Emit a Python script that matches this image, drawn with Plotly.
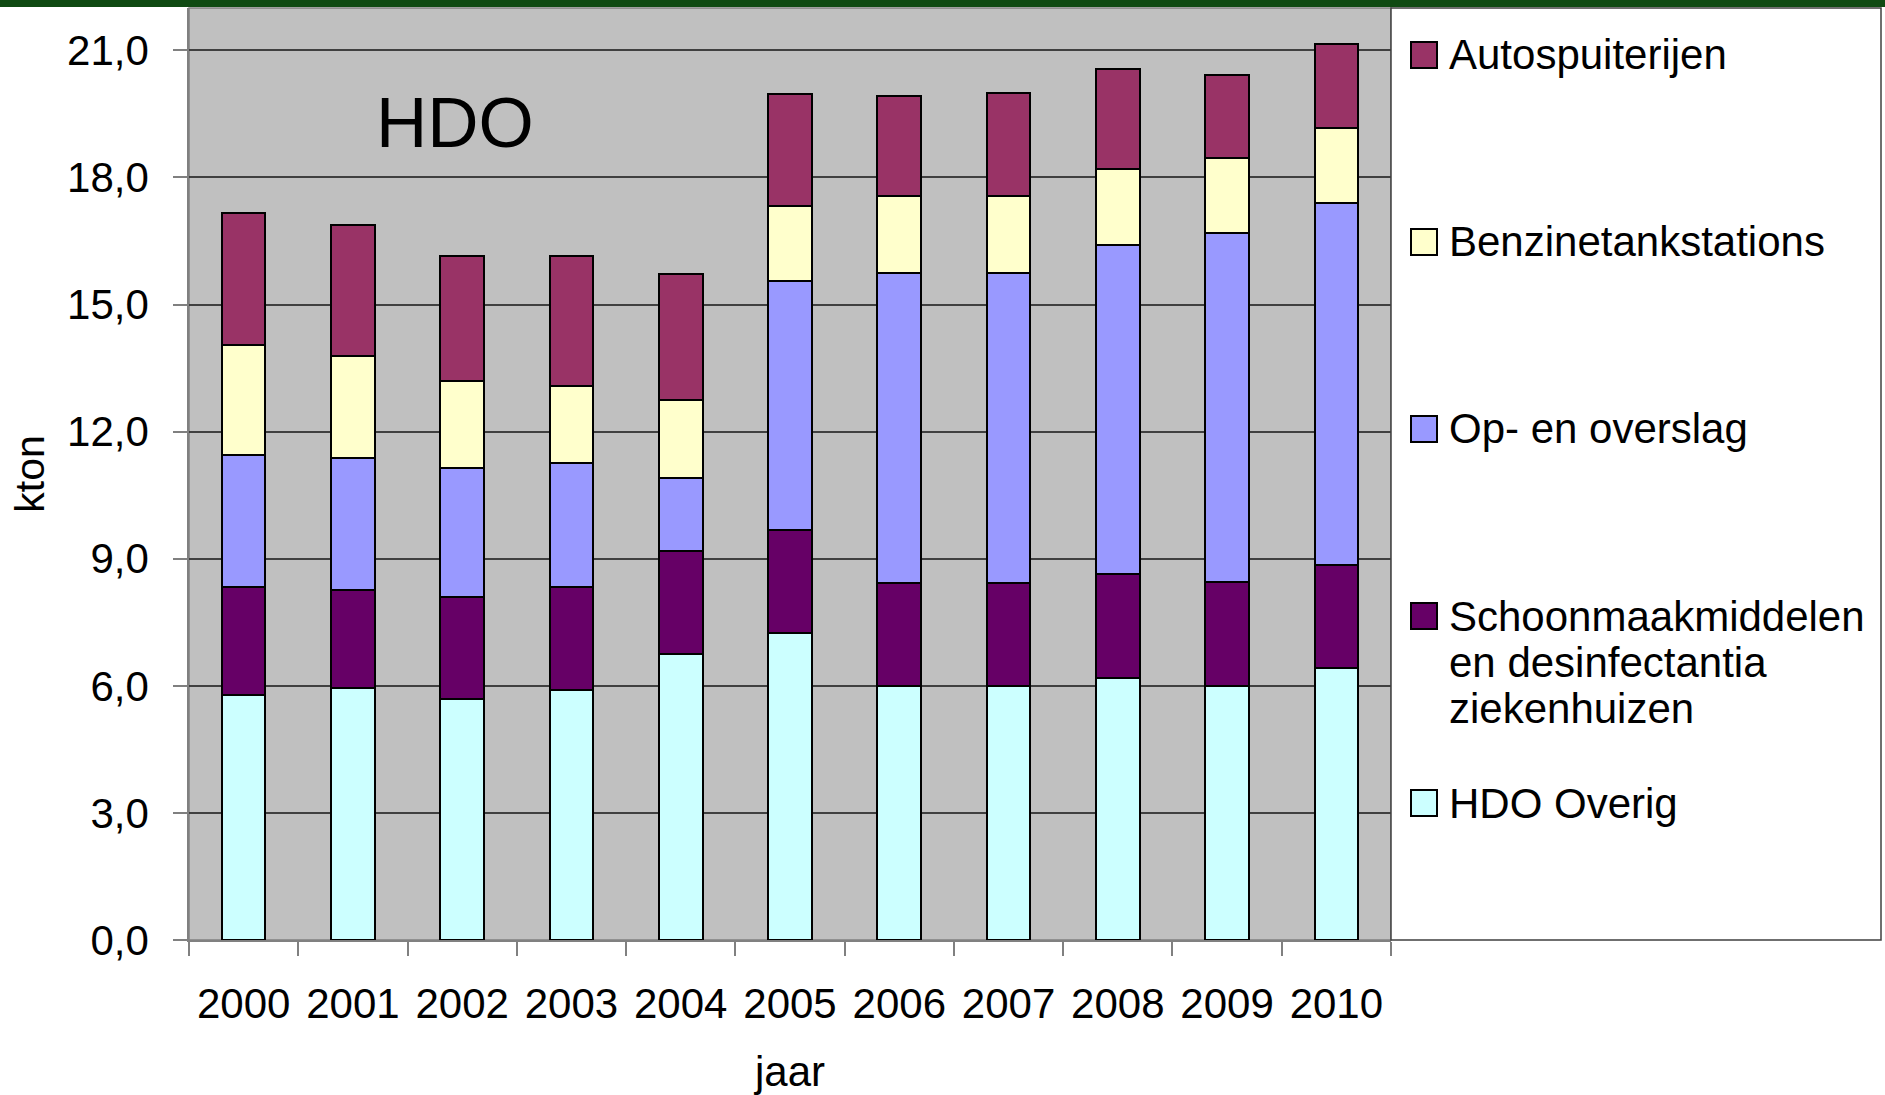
import plotly.graph_objects as go

years = ["2000", "2001", "2002", "2003", "2004", "2005", "2006", "2007", "2008", "2009", "2010"]

# segment sizes in kton, bottom to top of each stack
hdo_overig = [5.79, 5.96, 5.70, 5.90, 6.75, 7.24, 5.99, 5.99, 6.19, 5.99, 6.42]
schoonmaak = [2.55, 2.30, 2.39, 2.44, 2.44, 2.44, 2.44, 2.44, 2.44, 2.47, 2.43]
op_overslag = [3.10, 3.12, 3.06, 2.93, 1.71, 5.87, 7.32, 7.32, 7.77, 8.23, 8.54]
benzine = [2.61, 2.41, 2.05, 1.81, 1.84, 1.78, 1.82, 1.82, 1.79, 1.78, 1.78]
autospuit = [3.12, 3.09, 2.95, 3.07, 2.98, 2.64, 2.35, 2.43, 2.38, 1.96, 1.99]

series = [
    ("HDO Overig", hdo_overig, "#CCFFFF"),
    ("Schoonmaakmiddelen<br>en desinfectantia<br>ziekenhuizen", schoonmaak, "#660066"),
    ("Op- en overslag", op_overslag, "#9999FF"),
    ("Benzinetankstations", benzine, "#FFFFCC"),
    ("Autospuiterijen", autospuit, "#993366"),
]

FONT = "Liberation Sans, Arial, sans-serif"
W, H = 1885, 1095
L, R, T, B = 189, 1391, 8, 940  # plot area in pixels


def px(x):
    return (x - L) / (R - L)


def py(y):
    return (B - y) / (B - T)


fig = go.Figure()
for name, vals, color in series:
    fig.add_trace(go.Bar(
        x=years, y=vals, name=name.replace("<br>", " "),
        marker=dict(color=color, line=dict(color="black", width=2)),
        showlegend=False,
    ))

shapes = [
    # groene balk bovenaan
    dict(type="rect", xref="paper", yref="paper", x0=px(0), x1=px(W), y0=py(7), y1=py(0),
         fillcolor="#0F4A12", line_width=0, layer="above"),
    # rand plotgebied
    dict(type="rect", xref="paper", yref="paper", x0=0, x1=1, y0=0, y1=1,
         line=dict(color="#808080", width=1.5), layer="below"),
    # legendavak
    dict(type="rect", xref="paper", yref="paper", x0=px(1391), x1=px(1881), y0=py(940), y1=py(8),
         fillcolor="white", line=dict(color="#404040", width=1.5), layer="above"),
]
annotations = [
    dict(text="HDO", x=px(455), y=py(122), xref="paper", yref="paper", showarrow=False,
         xanchor="center", yanchor="middle",
         font=dict(size=71, color="black", family=FONT)),
]

# legenda handmatig: blokje + tekst per reeks
leg_y = [803, 616, 429, 242, 55]
for (name, vals, color), yc in zip(series, leg_y):
    shapes.append(dict(type="rect", xref="paper", yref="paper",
                       x0=px(1411), x1=px(1437), y0=py(yc + 13), y1=py(yc - 13),
                       fillcolor=color, line=dict(color="black", width=2), layer="above"))
    for i, line in enumerate(name.split("<br>")):
        annotations.append(dict(text=line, x=px(1447), y=py(yc + i * 46.5), xref="paper", yref="paper",
                                xanchor="left", yanchor="middle", showarrow=False,
                                font=dict(size=42, color="black", family=FONT)))

fig.update_layout(
    width=W, height=H,
    margin=dict(l=L, r=W - R, t=T, b=H - B, autoexpand=False),
    barmode="stack",
    bargap=0.6,
    plot_bgcolor="#C0C0C0",
    paper_bgcolor="white",
    separators=",.",
    font=dict(family=FONT, size=42, color="black"),
    shapes=shapes,
    annotations=annotations,
    xaxis=dict(
        type="category", tickson="boundaries", ticks="outside", ticklen=14,
        tickcolor="#808080", tickwidth=1.5, showline=True, linecolor="#808080", linewidth=1.5,
        showgrid=False, ticklabelstandoff=26, automargin=False,
        title=dict(text="jaar", font=dict(size=42), standoff=32),
    ),
    yaxis=dict(
        range=[0, 22], tickvals=[0, 3, 6, 9, 12, 15, 18, 21], tickformat=".1f",
        ticks="outside", ticklen=14, tickcolor="#808080", tickwidth=1.5,
        showline=True, linecolor="#808080", linewidth=1.5, automargin=False,
        gridcolor="#404040", gridwidth=1.5, zeroline=False, ticklabelstandoff=16,
        title=dict(text="kton", font=dict(size=41), standoff=10),
    ),
)

# standaard body-marge van de pagina weghalen, geen modebar
fig.write_html("out.html", config={"displayModeBar": False},
               post_script="document.body.style.margin='0';")
